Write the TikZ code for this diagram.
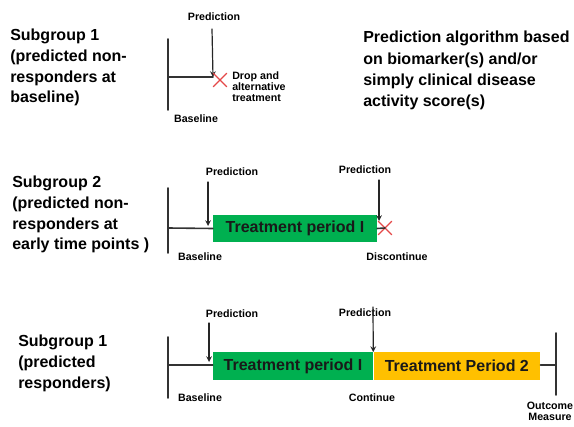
\documentclass[tikz,border=0pt]{standalone}
\usepackage{fontspec}
\setmainfont{Liberation Sans}
\usetikzlibrary{shapes.misc,positioning}
\definecolor{periodgreen}{RGB}{0,176,80}
\definecolor{periodgold}{RGB}{255,192,0}
\definecolor{dropred}{RGB}{228,72,72}

\begin{document}
\begin{tikzpicture}[x=0.75pt, y=-0.75pt, line cap=round, line join=round, >=stealth,
    group/.style={font=\bfseries\fontsize{12}{15.5}\selectfont, align=left, anchor=north west, inner sep=0pt},
    tag/.style={font=\bfseries\fontsize{8}{8.2}\selectfont, inner sep=0pt},
    period/.style={font=\bfseries\fontsize{12}{14}\selectfont, text=black!90, inner sep=0pt, minimum height=20.5pt},
    bar/.style={line width=1.2pt, black!80},
    hit/.style={->, line width=0.9pt, black!85},
    cross/.style={draw=dropred, cross out, line width=0.9pt, minimum size=9pt, inner sep=0pt}]
    \useasboundingbox (0,0) rectangle (574,427);

    % subgroup 1, non-responders at baseline
    \node[group] (g1) at (10,29) {Subgroup 1\\(predicted non-\\responders at\\baseline)};
    \node[group, font=\bfseries\fontsize{12}{16}\selectfont] (algo) at (363,31) {Prediction algorithm based\\on biomarker(s) and/or\\simply clinical disease\\activity score(s)};
    \coordinate (top1) at (168,39);
    \coordinate (bot1) at (168,110);
    \coordinate (base1) at (168,77);
    \coordinate (drop1) at (213,77);
    \coordinate (pin1) at (212,29);
    \draw[bar] (top1) -- (bot1);
    \draw[bar] (base1) -- (drop1);
    \node[tag] (pred1) at (214,17) {Prediction};
    \draw[hit] (pin1) -- (drop1);
    \node[cross] (x1) at (220,80) {};
    \node[tag, align=left, anchor=north west] (alt1) at (232,72) {Drop and\\alternative\\treatment};
    \node[tag] (bl1) at (196,119) {Baseline};

    % subgroup 2, non-responders early
    \node[group] (g2) at (12,176) {Subgroup 2\\(predicted non-\\responders at\\early time points )};
    \coordinate (top2) at (168,188);
    \coordinate (bot2) at (168,253);
    \coordinate (base2) at (168,228);
    \draw[bar] (top2) -- (bot2);
    \node[period, fill=periodgreen, minimum width=123pt] (tp2) at (295,228.5) {Treatment period I};
    \draw[bar] (base2) -- (tp2.west);
    \node[cross] (x2) at (385,228) {};
    \draw[bar] (tp2.east) -- (x2.center);
    \node[tag] (pred2a) at (232,172) {Prediction};
    \node[tag] (pred2b) at (365,170) {Prediction};
    \coordinate (pin2a) at (208,182);
    \coordinate (hit2a) at (208,226);
    \coordinate (pin2b) at (379,180);
    \coordinate (hit2b) at (379,221);
    \draw[hit] (pin2a) -- (hit2a);
    \draw[hit] (pin2b) -- (hit2b);
    \node[tag] (bl2) at (200,257) {Baseline};
    \node[tag] (stop2) at (397,257) {Discontinue};

    % subgroup 1, responders
    \node[group] (g3) at (18,335) {Subgroup 1\\(predicted\\responders)};
    \coordinate (top3) at (168,337);
    \coordinate (bot3) at (168,398);
    \coordinate (base3) at (168,365);
    \coordinate (top3r) at (556,333);
    \coordinate (bot3r) at (556,395);
    \coordinate (end3) at (556,365);
    \draw[bar] (top3) -- (bot3);
    \draw[bar] (top3r) -- (bot3r);
    \node[period, fill=periodgreen, minimum width=120pt] (tp3) at (293,366) {Treatment period I};
    \node[period, fill=periodgold, minimum width=125pt, right=0pt of tp3] (tq3) {Treatment Period 2};
    \draw[bar] (base3) -- (base3 -| tp3.west);
    \draw[bar] (end3 -| tq3.east) -- (end3);
    \node[tag] (pred3a) at (232,314) {Prediction};
    \node[tag] (pred3b) at (365,313) {Prediction};
    \coordinate (pin3a) at (209,323);
    \coordinate (hit3a) at (209,362);
    \coordinate (pin3b) at (373,307);
    \draw[hit] (pin3a) -- (hit3a);
    \draw[hit] (pin3b) -- (tp3.north east);
    \node[tag] (bl3) at (200,398) {Baseline};
    \node[tag] (go3) at (372,398) {Continue};
    \node[tag, align=center] (om3) at (550,411) {Outcome\\Measure};
\end{tikzpicture}
\end{document}
